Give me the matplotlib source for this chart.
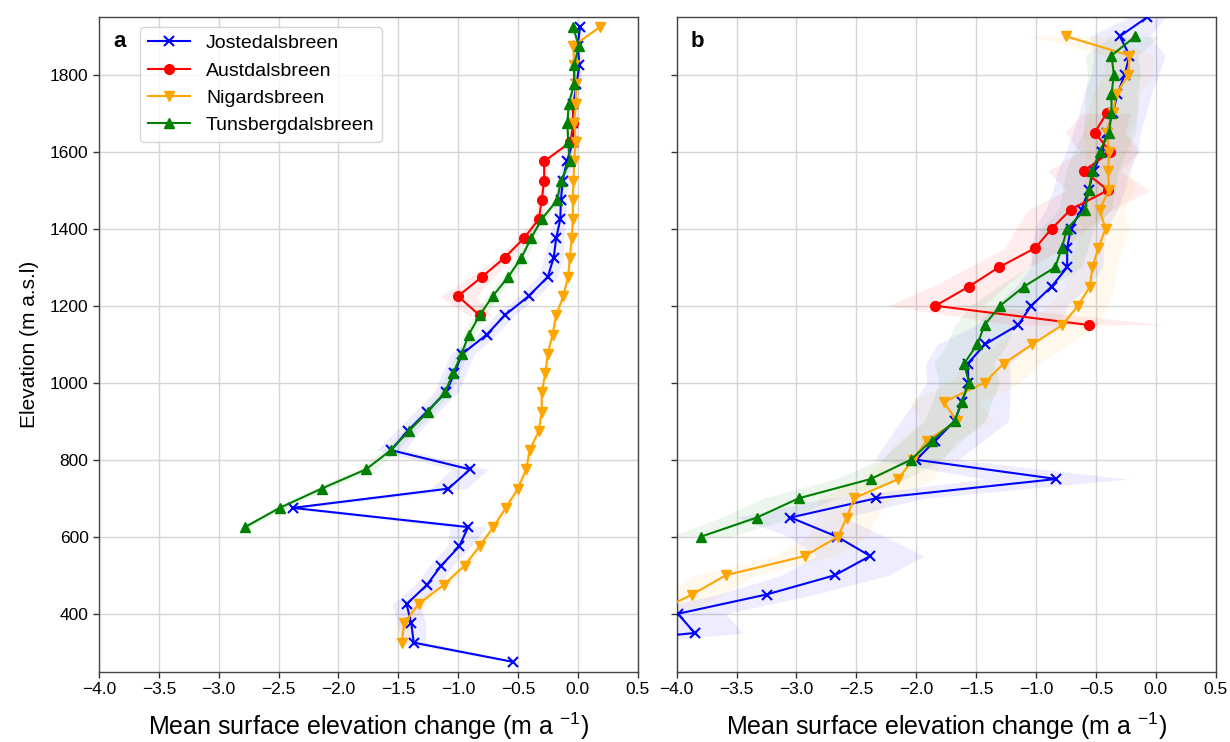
import numpy as np
import matplotlib
matplotlib.use("Agg")
import matplotlib.pyplot as plt

plt.rcParams['font.family'] = ['Liberation Sans', 'DejaVu Sans']
plt.rcParams['mathtext.default'] = 'regular'
plt.rcParams['axes.unicode_minus'] = True

# ---------------- Panel a data ----------------
elev_a_jost = [1925, 1875, 1825, 1775, 1725, 1675, 1625, 1575, 1525, 1475, 1425, 1375,
               1325, 1275, 1225, 1175, 1125, 1075, 1025, 975, 925, 875, 825, 775, 725,
               675, 625, 575, 525, 475, 425, 375, 325, 275]
dh_a_jost = [0.02, 0.0, 0.015, -0.01, -0.035, -0.04, -0.04, -0.09, -0.125, -0.14, -0.145, -0.18,
             -0.20, -0.25, -0.41, -0.61, -0.76, -0.965, -1.03, -1.10, -1.26, -1.42, -1.56, -0.90, -1.08,
             -2.38, -0.915, -0.99, -1.14, -1.26, -1.43, -1.39, -1.37, -0.54]
err_a_jost = [0.03, 0.03, 0.03, 0.03, 0.03, 0.03, 0.03, 0.04, 0.05, 0.05, 0.05, 0.06,
              0.08, 0.08, 0.08, 0.08, 0.08, 0.10, 0.10, 0.10, 0.10, 0.10, 0.12, 0.15, 0.15,
              0.10, 0.15, 0.10, 0.10, 0.10, 0.12, 0.12, 0.10, 0.05]

elev_a_aust = [1725, 1675, 1625, 1575, 1525, 1475, 1425, 1375, 1325, 1275, 1225, 1175]
dh_a_aust = [-0.04, -0.035, -0.06, -0.28, -0.28, -0.30, -0.325, -0.45, -0.61, -0.80, -1.00, -0.82]
err_a_aust = [0.02, 0.02, 0.02, 0.03, 0.03, 0.03, 0.04, 0.05, 0.06, 0.10, 0.15, 0.10]

elev_a_niga = [1925, 1875, 1825, 1775, 1725, 1675, 1625, 1575, 1525, 1475, 1425, 1375,
               1325, 1275, 1225, 1175, 1125, 1075, 1025, 975, 925, 875, 825, 775, 725,
               675, 625, 575, 525, 475, 425, 375, 325]
dh_a_niga = [0.19, -0.035, -0.03, -0.015, -0.015, -0.03, -0.015, -0.03, -0.035, -0.04, -0.04, -0.05,
             -0.065, -0.08, -0.12, -0.18, -0.21, -0.25, -0.27, -0.30, -0.30, -0.325, -0.40, -0.43, -0.50,
             -0.60, -0.705, -0.82, -0.945, -1.12, -1.33, -1.45, -1.47]
err_a_niga = [0.02, 0.02, 0.02, 0.02, 0.02, 0.02, 0.02, 0.02, 0.02, 0.02, 0.02, 0.02,
              0.02, 0.02, 0.02, 0.02, 0.02, 0.02, 0.02, 0.02, 0.02, 0.02, 0.02, 0.03, 0.03,
              0.03, 0.03, 0.04, 0.04, 0.05, 0.06, 0.07, 0.07]

elev_a_tuns = [1925, 1875, 1825, 1775, 1725, 1675, 1625, 1575, 1525, 1475, 1425, 1375,
               1325, 1275, 1225, 1175, 1125, 1075, 1025, 975, 925, 875, 825, 775, 725,
               675, 625]
dh_a_tuns = [-0.04, 0.01, -0.03, -0.03, -0.075, -0.085, -0.08, -0.065, -0.14, -0.17, -0.30, -0.39,
             -0.47, -0.58, -0.71, -0.82, -0.91, -0.97, -1.04, -1.11, -1.25, -1.41, -1.56, -1.77, -2.14,
             -2.49, -2.78]
err_a_tuns = [0.02, 0.02, 0.02, 0.02, 0.02, 0.02, 0.02, 0.02, 0.03, 0.03, 0.04, 0.04,
              0.05, 0.05, 0.05, 0.05, 0.05, 0.05, 0.05, 0.05, 0.05, 0.05, 0.06, 0.08, 0.06,
              0.05, 0.04]

# ---------------- Panel b data ----------------
elev_b_jost = [1950, 1900, 1850, 1800, 1750, 1700, 1650, 1600, 1550, 1500, 1450, 1400,
               1350, 1300, 1250, 1200, 1150, 1100, 1050, 1000, 950, 900, 850, 800, 750,
               700, 650, 600, 550, 500, 450, 400, 350, 300]
dh_b_jost = [-0.07, -0.30, -0.22, -0.26, -0.32, -0.36, -0.41, -0.45, -0.52, -0.56, -0.62, -0.71,
             -0.74, -0.74, -0.87, -1.04, -1.15, -1.425, -1.57, -1.565, -1.62, -1.68, -1.84, -2.0, -0.83,
             -2.335, -3.05, -2.66, -2.385, -2.68, -3.25, -3.99, -3.85, -5.5]
err_b_jost = [0.15, 0.25, 0.30, 0.28, 0.28, 0.28, 0.28, 0.30, 0.30, 0.30, 0.30, 0.30,
              0.30, 0.30, 0.30, 0.30, 0.35, 0.40, 0.35, 0.35, 0.40, 0.45, 0.40, 0.35, 0.60,
              0.40, 0.45, 0.40, 0.45, 0.45, 0.40, 0.40, 0.40, 0.40]

elev_b_aust = [1700, 1650, 1600, 1550, 1500, 1450, 1400, 1350, 1300, 1250, 1200, 1150]
dh_b_aust = [-0.41, -0.51, -0.38, -0.60, -0.40, -0.71, -0.87, -1.006, -1.31, -1.56, -1.84, -0.56]
err_b_aust = [0.20, 0.25, 0.25, 0.30, 0.35, 0.35, 0.30, 0.25, 0.25, 0.30, 0.40, 0.65]

elev_b_niga = [1900, 1850, 1800, 1750, 1700, 1650, 1600, 1550, 1500, 1450, 1400, 1350,
               1300, 1250, 1200, 1150, 1100, 1050, 1000, 950, 900, 850, 800, 750, 700,
               650, 600, 550, 500, 450, 400]
dh_b_niga = [-0.75, -0.22, -0.23, -0.33, -0.36, -0.41, -0.39, -0.40, -0.39, -0.47, -0.42, -0.48,
             -0.53, -0.55, -0.65, -0.78, -1.03, -1.27, -1.43, -1.77, -1.66, -1.91, -2.03, -2.15, -2.52,
             -2.58, -2.655, -2.93, -3.59, -3.87, -4.2]
err_b_niga = [0.30, 0.20, 0.20, 0.20, 0.20, 0.20, 0.20, 0.20, 0.20, 0.20, 0.20, 0.20,
              0.20, 0.20, 0.25, 0.30, 0.30, 0.30, 0.30, 0.30, 0.30, 0.25, 0.25, 0.30, 0.30,
              0.25, 0.25, 0.25, 0.25, 0.25, 0.25]

elev_b_tuns = [1900, 1850, 1800, 1750, 1700, 1650, 1600, 1550, 1500, 1450, 1400, 1350,
               1300, 1250, 1200, 1150, 1100, 1050, 1000, 950, 900, 850, 800, 750, 700,
               650, 600]
dh_b_tuns = [-0.17, -0.37, -0.35, -0.37, -0.37, -0.39, -0.47, -0.53, -0.56, -0.59, -0.74, -0.785,
             -0.84, -1.10, -1.30, -1.43, -1.49, -1.60, -1.56, -1.62, -1.68, -1.87, -2.045, -2.38, -2.98,
             -3.33, -3.80]
err_b_tuns = [0.20, 0.22, 0.22, 0.22, 0.22, 0.22, 0.22, 0.22, 0.22, 0.22, 0.22, 0.22,
              0.22, 0.22, 0.25, 0.25, 0.25, 0.25, 0.25, 0.25, 0.25, 0.25, 0.25, 0.30, 0.30,
              0.30, 0.25]

names = ['Jostedalsbreen', 'Austdalsbreen', 'Nigardsbreen', 'Tunsbergdalsbreen']
colors = ['blue', 'red', 'orange', 'green']
markers = ['x', 'o', 'v', '^']

panel_a = [(elev_a_jost, dh_a_jost, err_a_jost), (elev_a_aust, dh_a_aust, err_a_aust),
           (elev_a_niga, dh_a_niga, err_a_niga), (elev_a_tuns, dh_a_tuns, err_a_tuns)]
panel_b = [(elev_b_jost, dh_b_jost, err_b_jost), (elev_b_aust, dh_b_aust, err_b_aust),
           (elev_b_niga, dh_b_niga, err_b_niga), (elev_b_tuns, dh_b_tuns, err_b_tuns)]

fig = plt.figure(figsize=(12.3, 7.42), dpi=100)
bottom = 1 - 671.5 / 742
height = 654.5 / 742
ax_a = fig.add_axes([99 / 1230, bottom, 538.5 / 1230, height])
ax_b = fig.add_axes([676.7 / 1230, bottom, 539 / 1230, height], sharey=ax_a)

for ax, data, letter in [(ax_a, panel_a, 'a'), (ax_b, panel_b, 'b')]:
    for (elev, dh, err), name, c, m in zip(data, names, colors, markers):
        elev = np.array(elev, float)
        dh = np.array(dh, float)
        err = np.array(err, float)
        ax.fill_betweenx(elev, dh - err, dh + err, color=c, alpha=0.07, lw=0, zorder=1)
        ax.plot(dh, elev, color=c, marker=m, lw=1.5, ms=7, mew=1.5 if m == 'x' else 1,
                label=name, zorder=3)
    ax.set_xlim(-4, 0.5)
    ax.set_ylim(250, 1950)
    ax.set_xticks(np.arange(-4, 0.51, 0.5))
    ax.set_yticks(np.arange(400, 1801, 200))
    ax.grid(True, color='#d5d5d5', lw=1.0, zorder=0)
    ax.set_axisbelow(True)
    ax.tick_params(labelsize=12.5, length=4, width=1, color='#333333')
    for s in ax.spines.values():
        s.set_color('#444444')
        s.set_linewidth(1.0)
    ax.set_xlabel('Mean surface elevation change (m a $^{-1}$)', fontsize=18, labelpad=10)
    ax.text(0.026, 0.962, letter, transform=ax.transAxes, fontsize=16, fontweight='bold',
            va='center', ha='left')

ax_a.set_ylabel('Elevation (m a.s.l)', fontsize=15, labelpad=8)
plt.setp(ax_b.get_yticklabels(), visible=False)

leg = ax_a.legend(loc='upper left', bbox_to_anchor=(0.076, 0.985), borderaxespad=0,
                  fontsize=14, frameon=True, fancybox=True, handlelength=2.2)
leg.get_frame().set_edgecolor('#cccccc')

fig.savefig('out.png', dpi=100)
